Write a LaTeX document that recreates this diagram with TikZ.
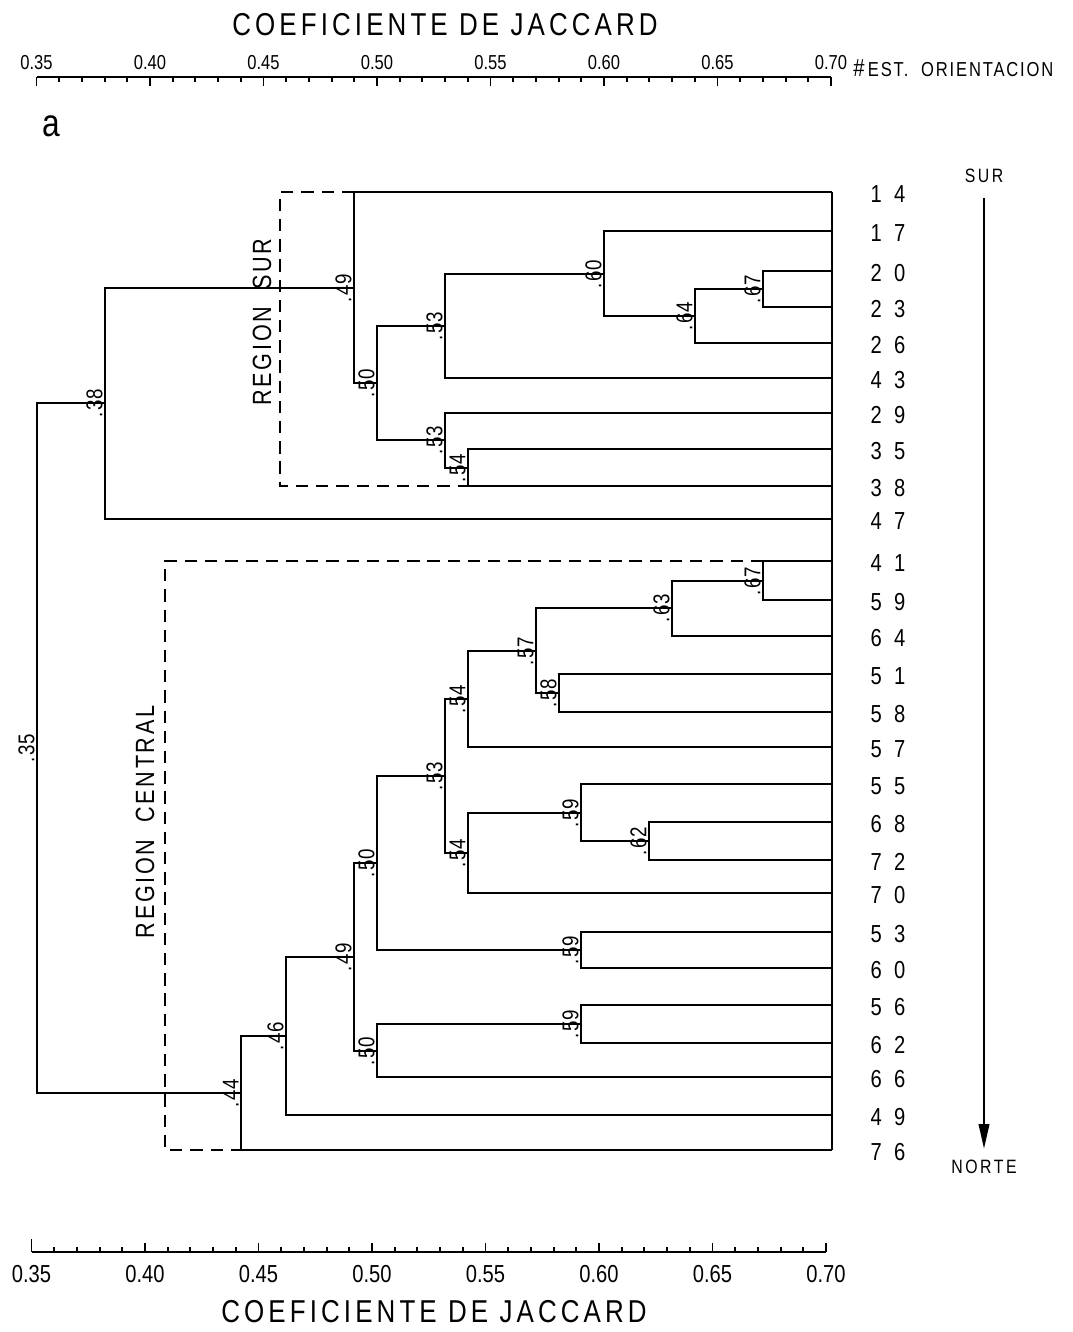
\documentclass[tikz,border=0pt]{standalone}
\usepackage{fontspec}
\setmainfont{Liberation Sans}[FakeStretch=0.82]
\usetikzlibrary{arrows.meta, calc, positioning}

\tikzset{
  branch/.style={line width=1.1pt},
  region/.style={line width=1.1pt, dash pattern=on 7pt off 4.5pt},
  val/.style={rotate=90, anchor=south, inner sep=1.2pt, font=\fontsize{13}{13}\selectfont\addfontfeature{LetterSpace=5}},
  leaf/.style={font=\fontsize{14}{14}\selectfont\addfontfeature{LetterSpace=50}},
  axlab/.style={font=\fontsize{11.5}{11.5}\selectfont},
  botlab/.style={font=\fontsize{14}{14}\selectfont},
  titlelab/.style={font=\fontsize{18}{18}\selectfont\addfontfeature{LetterSpace=13}},
  reglab/.style={rotate=90, font=\fontsize{15}{15}\selectfont\addfontfeature{LetterSpace=10}},
  dirlab/.style={font=\fontsize{11}{11}\selectfont\addfontfeature{LetterSpace=13}},
}

\begin{document}
\begin{tikzpicture}[x=0.02cm, y=-0.02cm]
\useasboundingbox (0,0) rectangle (1072,1332);

\node[titlelab] (ttop) at (445,25) {COEFICIENTE DE JACCARD};
\draw[branch] ({.35*2270-758},77) -- ({.70*2270-758},77);
\foreach \t in {35,...,70}{
  \draw[branch] ({\t*22.7-758},77) -- ++(0,5);
}
\foreach \t in {35,40,...,70}{
  \draw[branch] ({\t*22.7-758},77) -- ++(0,9);
  \node[axlab] (ax\t) at ({\t*22.7-758},63) {0.\t};
}
\node[axlab, anchor=west, inner sep=0pt] (est) at (853,68) {{\fontsize{14}{14}\selectfont\#}\,\addfontfeature{LetterSpace=9}EST.\ \ ORIENTACION};
\node[font=\fontsize{22}{22}\selectfont] (pa) at (51,126) {a};

\foreach \lab/\y in {14/192,17/231,20/271,23/307,26/343,43/378,29/413,35/449,38/486,47/519,
  41/561,59/600,64/636,51/674,58/712,57/747,55/784,68/822,72/860,70/893,53/932,60/968,
  56/1005,62/1043,66/1077,49/1115,76/1150}{
  \coordinate (l\lab) at (832,\y);
  \node[leaf] (t\lab) at (888,\y+2) {\lab};
}
\draw[branch] (l14) -- (l76);

\foreach \n/\c/\y/\a/\b in {s1/.67/289/l20/l23, s2/.64/316/s1/l26, s3/.60/274/l17/s2,
  s4/.53/326/s3/l43, s5/.54/468/l35/l38, s6/.53/440/l29/s5, s7/.50/383/s4/s6,
  s8/.49/288/l14/s7, s9/.38/403/s8/l47,
  c1/.67/581/l41/l59, c2/.63/608/c1/l64, c3/.58/693/l51/l58, c4/.57/651/c2/c3,
  c5/.54/699/c4/l57, c6/.62/841/l68/l72, c7/.59/813/l55/c6, c8/.54/853/c7/l70,
  c9/.53/776/c5/c8, c10/.59/950/l53/l60, c11/.50/863/c9/c10, c12/.59/1024/l56/l62,
  c13/.50/1051/c12/l66, c14/.49/957/c11/c13, c15/.46/1036/c14/l49,
  c16/.44/1093/c15/l76, root/.35/748/s9/c16}{
  \coordinate (\n) at ({round(\c*2270-758)},\y);
  \draw[branch] (\a) -| (\n) |- (\b);
  \node[val] (v\n) at (\n) {\c};
}

\coordinate (sbox) at (280,0);
\coordinate (cbox) at (165,0);
\draw[region] (s8 |- l14) -| (sbox |- l38) -- (s5 |- l38);
\draw[region] (c1 |- l41) -| (cbox |- l76) -- (c16 |- l76);
\node[reglab] (rsur) at (262,322) {REGION\ \ SUR};
\node[reglab] (rcen) at (145,822) {REGION\ \ CENTRAL};

\node[dirlab] (sur) at (984,176) {SUR};
\node[dirlab] (norte) at (984,1167) {NORTE};
\draw[line width=1.1pt, -{Triangle[length=14pt, width=6pt]}, shorten <=5pt, shorten >=3pt] (sur.south) -- (norte.north);

\draw[branch] ({.35*2270-763},1252) -- ({.70*2270-763},1252);
\foreach \t in {35,...,70}{
  \draw[branch] ({\t*22.7-763},1252) -- ++(0,-5);
}
\foreach \t in {35,40,...,70}{
  \draw[branch] ({\t*22.7-763},1252) -- ++(0,-9);
  \node[botlab] (bx\t) at ({\t*22.7-763},1274) {0.\t};
}
\draw[branch] ({.35*2270-763},1252) -- ++(0,-13);
\node[titlelab] (tbot) at (434,1312) {COEFICIENTE DE JACCARD};
\end{tikzpicture}
\end{document}
